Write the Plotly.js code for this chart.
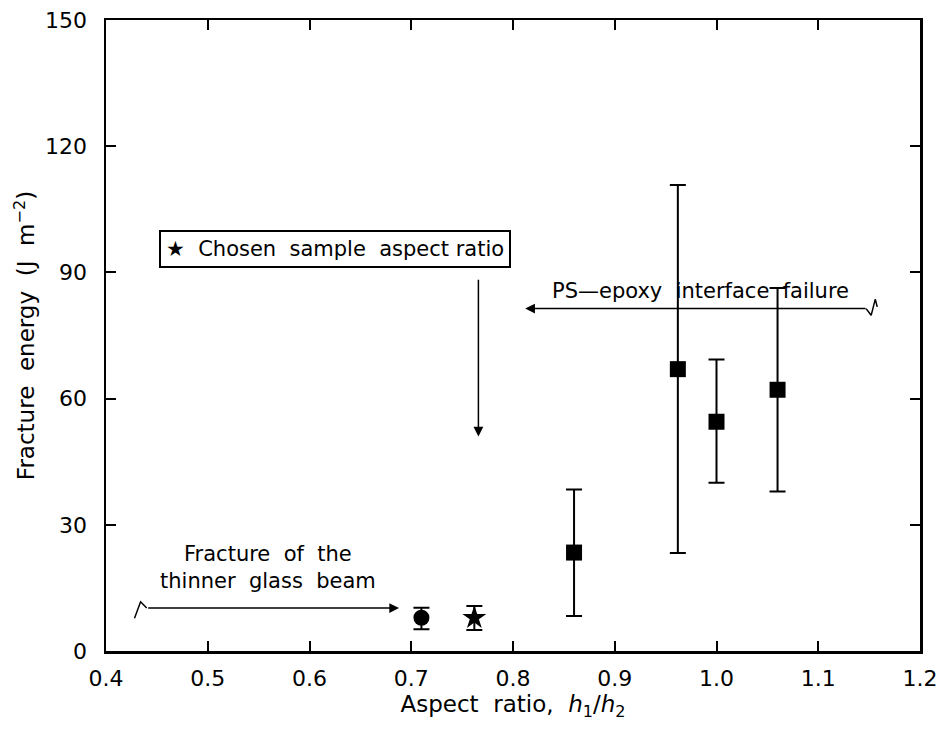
<!DOCTYPE html>
<html>
<head>
<meta charset="utf-8">
<script src="https://cdn.plot.ly/plotly-3.0.1.min.js"></script>
<style>html,body{margin:0;padding:0;background:#fff;}#chart{width:942px;height:738px;}</style>
</head>
<body>
<div id="chart"></div>
<script>
// Data
const circleX = [0.71];
const circleY = [7.9];
const circleUp = [2.4];
const circleDown = [2.7];

const starX = [0.762];
const starY = [7.9];
const starUp = [2.8];
const starDown = [2.9];

const squareX = [0.86, 0.962, 1.0, 1.06];
const squareY = [23.4, 67.0, 54.5, 62.1];
const squareUp = [15.0, 43.8, 14.8, 24.2];
const squareDown = [15.1, 43.7, 14.5, 24.2];

const xTicks = [0.4, 0.5, 0.6, 0.7, 0.8, 0.9, 1.0, 1.1, 1.2];
const yTicks = [0, 30, 60, 90, 120, 150];

// Annotation arrows: [tailX, tailY, headX, headY]
const arrowPS = [1.148, 81.4, 0.812, 81.4];
const arrowGlass = [0.44, 10.2, 0.688, 10.2];
const arrowChosen = [0.766, 88.6, 0.766, 51.0];
// Break marks on arrow tails
const breakRightX = [1.147, 1.152, 1.156, 1.158];
const breakRightY = [81.4, 79.8, 83.6, 81.8];
const breakLeftX = [0.428, 0.434, 0.44];
const breakLeftY = [7.8, 11.7, 10.2];

const font = 'DejaVu Sans, sans-serif';

const errStyle = {type: 'data', symmetric: false, color: '#000', thickness: 2, width: 8};

const traces = [
  {x: circleX, y: circleY, mode: 'markers', type: 'scatter',
   marker: {symbol: 'circle', size: 16, color: '#000'},
   error_y: Object.assign({array: circleUp, arrayminus: circleDown}, errStyle)},
  {x: starX, y: starY, mode: 'markers', type: 'scatter',
   marker: {symbol: 'star', size: 18, color: '#000'},
   error_y: Object.assign({array: starUp, arrayminus: starDown}, errStyle)},
  {x: squareX, y: squareY, mode: 'markers', type: 'scatter',
   marker: {symbol: 'square', size: 16, color: '#000'},
   error_y: Object.assign({array: squareUp, arrayminus: squareDown}, errStyle)},
  {x: breakRightX, y: breakRightY, mode: 'lines', type: 'scatter', line: {color: '#000', width: 1.5}, hoverinfo: 'skip'},
  {x: breakLeftX, y: breakLeftY, mode: 'lines', type: 'scatter', line: {color: '#000', width: 1.5}, hoverinfo: 'skip'}
];

function arrow(a) {
  return {x: a[2], y: a[3], ax: a[0], ay: a[1], xref: 'x', yref: 'y', axref: 'x', ayref: 'y',
    text: '', showarrow: true, arrowhead: 2, arrowsize: 1.3, arrowwidth: 1.5, arrowcolor: '#000', standoff: 0};
}

const layout = {
  width: 942, height: 738,
  margin: {l: 106, r: 22, t: 20, b: 87},
  paper_bgcolor: '#fff', plot_bgcolor: '#fff',
  showlegend: false,
  font: {family: font, color: '#000', size: 21},
  xaxis: {
    range: [0.4, 1.2], tickvals: xTicks, ticktext: xTicks.map(v => v.toFixed(1)),
    ticks: 'inside', ticklen: 10, tickwidth: 2, tickcolor: '#000',
    showline: true, linewidth: 2.5, linecolor: '#000', mirror: 'ticks',
    showgrid: false, zeroline: false,
    tickfont: {family: font, size: 22}, ticklabelstandoff: 6,
    title: {text: 'Aspect  ratio,  <i>h</i><sub>1</sub>/<i>h</i><sub>2</sub>', font: {family: font, size: 23}, standoff: 6}
  },
  yaxis: {
    range: [0, 150], tickvals: yTicks,
    ticks: 'inside', ticklen: 10, tickwidth: 2, tickcolor: '#000',
    showline: true, linewidth: 2.5, linecolor: '#000', mirror: 'ticks',
    showgrid: false, zeroline: false,
    tickfont: {family: font, size: 22}, ticklabelstandoff: 12,
    title: {text: 'Fracture  energy  (J  m<sup>−2</sup>)', font: {family: font, size: 23}, standoff: 4}
  },
  annotations: [
    arrow(arrowPS), arrow(arrowGlass), arrow(arrowChosen),
    {x: 0.984, y: 85.6, xref: 'x', yref: 'y', text: 'PS—epoxy  interface  failure', showarrow: false,
     font: {family: font, size: 21}, bgcolor: 'rgba(0,0,0,0)'},
    {x: 0.625, y: 95.5, xref: 'x', yref: 'y', text: '★  Chosen  sample  aspect ratio', showarrow: false,
     font: {family: font, size: 21}, bordercolor: '#000', borderwidth: 2, borderpad: 5, bgcolor: '#fff'},
    {x: 0.559, y: 19.8, xref: 'x', yref: 'y', text: 'Fracture  of  the<br>thinner  glass  beam', showarrow: false,
     font: {family: font, size: 21}}
  ]
};

Plotly.newPlot('chart', traces, layout, {staticPlot: true, displayModeBar: false});
</script>
</body>
</html>
